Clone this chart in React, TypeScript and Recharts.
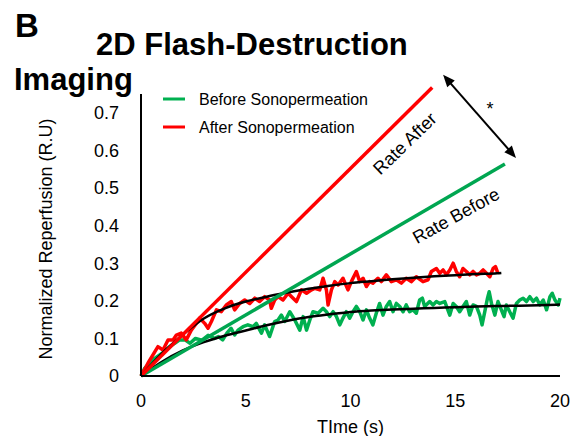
import React from 'react';
import { LineChart, Line, XAxis, YAxis, ReferenceLine, ReferenceDot, Legend } from 'recharts';

const FONT = '"Liberation Sans", Arial, sans-serif';

const xTicks = [0, 5, 10, 15, 20];
const yTicks = [0, 0.1, 0.2, 0.3, 0.4, 0.5, 0.6, 0.7];

const seriesNames = ['Before Sonopermeation', 'After Sonopermeation'];
const seriesColors = ['#00b050', '#ff0000'];

// Raw reperfusion traces [time s, value]
const beforeRaw: [number, number][] = [
  [0, 0], [0.17, 0.02], [0.41, 0.034], [0.65, 0.047], [0.89, 0.056], [1.13, 0.065], [1.37, 0.078],
  [1.61, 0.087], [1.85, 0.096], [2.1, 0.096], [2.34, 0.087], [2.6, 0.1], [2.9, 0.095], [3.2, 0.108],
  [3.5, 0.1], [3.7, 0.105], [3.9, 0.096], [4.1, 0.114], [4.3, 0.127], [4.47, 0.109], [4.63, 0.122],
  [4.87, 0.131], [5.1, 0.136], [5.35, 0.131], [5.5, 0.14], [5.75, 0.114], [5.9, 0.136], [6.14, 0.105],
  [6.38, 0.145], [6.54, 0.149], [6.7, 0.162], [6.86, 0.145], [7.1, 0.171], [7.34, 0.149], [7.58, 0.122],
  [7.74, 0.158], [7.9, 0.122], [8.06, 0.149], [8.21, 0.171], [8.45, 0.167], [8.69, 0.18], [8.85, 0.171],
  [9.01, 0.158], [9.17, 0.171], [9.33, 0.158], [9.49, 0.136], [9.64, 0.154], [9.8, 0.171], [9.96, 0.154],
  [10.12, 0.171], [10.28, 0.185], [10.44, 0.171], [10.6, 0.149], [10.76, 0.176], [10.91, 0.154],
  [11.07, 0.136], [11.23, 0.167], [11.39, 0.193], [11.55, 0.162], [11.71, 0.185], [11.87, 0.198],
  [12.03, 0.171], [12.19, 0.193], [12.35, 0.185], [12.51, 0.171], [12.66, 0.189], [12.82, 0.171],
  [12.98, 0.176], [13.14, 0.167], [13.3, 0.202], [13.43, 0.207], [13.54, 0.185], [13.78, 0.198],
  [13.94, 0.189], [14.1, 0.198], [14.26, 0.193], [14.5, 0.198], [14.74, 0.162], [14.9, 0.193],
  [15.05, 0.185], [15.21, 0.171], [15.37, 0.185], [15.53, 0.198], [15.69, 0.162], [15.85, 0.189],
  [16.01, 0.185], [16.17, 0.162], [16.28, 0.136], [16.41, 0.171], [16.54, 0.207], [16.62, 0.224],
  [16.73, 0.193], [16.89, 0.162], [17.04, 0.198], [17.2, 0.176], [17.33, 0.158], [17.44, 0.189],
  [17.6, 0.171], [17.76, 0.154], [17.92, 0.193], [18.08, 0.202], [18.24, 0.207], [18.4, 0.198],
  [18.56, 0.211], [18.72, 0.198], [18.88, 0.207], [19.04, 0.189], [19.2, 0.202], [19.36, 0.176],
  [19.52, 0.211], [19.63, 0.22], [19.76, 0.202], [19.92, 0.189], [20, 0.207],
];

const afterRaw: [number, number][] = [
  [0, 0], [0.33, 0.034], [0.57, 0.056], [0.81, 0.078], [1.05, 0.069], [1.29, 0.096], [1.53, 0.096],
  [1.69, 0.109], [1.92, 0.114], [2.16, 0.096], [2.4, 0.122], [2.64, 0.14], [2.8, 0.154], [3.04, 0.14],
  [3.2, 0.127], [3.36, 0.145], [3.6, 0.176], [3.83, 0.171], [4.07, 0.189], [4.31, 0.198], [4.47, 0.176],
  [4.71, 0.193], [4.95, 0.202], [5.19, 0.193], [5.43, 0.207], [5.66, 0.198], [5.9, 0.211], [6.14, 0.202],
  [6.22, 0.18], [6.38, 0.202], [6.54, 0.211], [6.78, 0.202], [7.02, 0.22], [7.26, 0.207], [7.42, 0.198],
  [7.66, 0.229], [7.9, 0.22], [8.14, 0.229], [8.29, 0.233], [8.53, 0.229], [8.69, 0.26], [8.85, 0.229],
  [8.93, 0.189], [9.09, 0.229], [9.25, 0.251], [9.41, 0.242], [9.64, 0.26], [9.88, 0.229], [10.04, 0.251],
  [10.28, 0.278], [10.44, 0.251], [10.6, 0.26], [10.76, 0.238], [10.91, 0.251], [11.07, 0.247],
  [11.31, 0.26], [11.47, 0.251], [11.71, 0.269], [11.95, 0.251], [12.19, 0.256], [12.43, 0.247],
  [12.66, 0.26], [12.9, 0.251], [13.14, 0.264], [13.46, 0.251], [13.7, 0.256], [13.86, 0.278],
  [14.1, 0.286], [14.26, 0.273], [14.42, 0.282], [14.58, 0.269], [14.74, 0.282], [14.9, 0.3],
  [15.05, 0.278], [15.21, 0.264], [15.37, 0.286], [15.53, 0.278], [15.69, 0.269], [15.85, 0.278],
  [16.01, 0.269], [16.17, 0.273], [16.33, 0.282], [16.49, 0.273], [16.65, 0.264], [16.81, 0.286],
  [16.92, 0.291], [17.04, 0.273],
];

// Fitted curves
const beforeFit: [number, number][] = [
  [0, 0], [1, 0.038], [2, 0.068], [3, 0.09], [4, 0.107], [5, 0.121], [6, 0.135], [7, 0.147], [8, 0.157],
  [9, 0.164], [10, 0.17], [11, 0.174], [12, 0.177], [13, 0.179], [14, 0.181], [15, 0.183], [16, 0.185],
  [17, 0.186], [18, 0.187], [19, 0.188], [20, 0.19],
];
const afterFit: [number, number][] = [
  [0, 0], [1, 0.06], [2, 0.11], [3, 0.153], [4, 0.18], [5, 0.198], [6, 0.211], [7, 0.222], [8, 0.232],
  [9, 0.24], [10, 0.247], [11, 0.252], [12, 0.257], [13, 0.261], [14, 0.265], [15, 0.268], [16, 0.271],
  [17, 0.273], [17.2, 0.274],
];

// Initial-rate lines and annotation anchors [time, value]
const rateBefore: [number, number][] = [[0, 0], [17.37, 0.564]];
const rateAfter: [number, number][] = [[0, 0], [13.9, 0.767]];
const arrowPts: [number, number][] = [[14.42, 0.801], [17.9, 0.58]];
const rateAfterLabel: [number, number] = [12.6, 0.618];
const rateBeforeLabel: [number, number] = [15.04, 0.426];
const starPos: [number, number] = [16.66, 0.71];

const toObj = (arr: [number, number][]) => arr.map(([x, y]) => ({ x, y }));

const ArrowShape = (p: any) => {
  const { x1, y1, x2, y2 } = p;
  const ang = Math.atan2(y2 - y1, x2 - x1);
  const L = 12, W = 5;
  const head = (x: number, y: number, a: number) => {
    const bx = x - L * Math.cos(a), by = y - L * Math.sin(a);
    const px = -Math.sin(a) * W, py = Math.cos(a) * W;
    return `${x},${y} ${bx + px},${by + py} ${bx - px},${by - py}`;
  };
  return (
    <g>
      <line x1={x1 + 8 * Math.cos(ang)} y1={y1 + 8 * Math.sin(ang)} x2={x2 - 8 * Math.cos(ang)} y2={y2 - 8 * Math.sin(ang)} stroke="#000" strokeWidth={2} />
      <polygon points={head(x2, y2, ang)} fill="#000" />
      <polygon points={head(x1, y1, ang + Math.PI)} fill="#000" />
    </g>
  );
};

const rotatedText = (text: string, angle: number, size: number) => (p: any) => (
  <text
    x={p.cx}
    y={p.cy}
    transform={`rotate(${angle} ${p.cx} ${p.cy})`}
    textAnchor="middle"
    dominantBaseline="central"
    fontFamily={FONT}
    fontSize={size}
    fill="#000"
  >
    {text}
  </text>
);

const LegendContent = () => (
  <svg width={220} height={50} style={{ display: 'block' }}>
    {seriesNames.map((n, i) => (
      <g key={n}>
        <line x1={0} x2={22} y1={10 + i * 28} y2={10 + i * 28} stroke={seriesColors[i]} strokeWidth={3} />
        <text x={36} y={10 + i * 28} dominantBaseline="central" fontFamily={FONT} fontSize={16} fill="#000">{n}</text>
      </g>
    ))}
  </svg>
);

export default function App() {
  return (
    <div style={{ position: 'absolute', left: 0, top: 0, width: 580, height: 436, background: '#fff' }}>
      <LineChart
        width={580}
        height={436}
        margin={{ top: 94, right: 20, bottom: 0, left: 0 }}
        style={{ fontFamily: FONT }}
      >
        <XAxis
          type="number"
          dataKey="x"
          domain={[0, 20]}
          ticks={xTicks}
          tickLine={false}
          tickMargin={12}
          height={60}
          axisLine={{ stroke: '#000', strokeWidth: 2 }}
          tick={{ fill: '#000', fontSize: 18, fontFamily: FONT }}
          label={{ value: 'TIme (s)', position: 'insideBottom', offset: 3, fill: '#000', fontSize: 18, fontFamily: FONT }}
        />
        <YAxis
          type="number"
          dataKey="y"
          domain={[0, 0.75]}
          ticks={yTicks}
          tickLine={false}
          tickMargin={16}
          width={141}
          axisLine={{ stroke: '#000', strokeWidth: 2 }}
          tick={{ fill: '#000', fontSize: 18, fontFamily: FONT }}
          label={(props: any) => {
            const vb = props.viewBox || {};
            const cx = 46;
            const cy = (vb.y ?? 94) + (vb.height ?? 282) / 2 + 4;
            return (
              <text x={cx} y={cy} transform={`rotate(-90 ${cx} ${cy})`} textAnchor="middle" dominantBaseline="central" fontFamily={FONT} fontSize={18} fill="#000">
                Normalized Reperfusion (R.U)
              </text>
            );
          }}
        />
        <Legend
          layout="vertical"
          align="center"
          verticalAlign="middle"
          content={LegendContent}
          wrapperStyle={{ position: 'absolute', left: 163, top: 89, width: 220, height: 50 }}
        />
        <Line data={toObj(beforeRaw)} dataKey="y" name={seriesNames[0]} stroke={seriesColors[0]} strokeWidth={3.5} dot={false} isAnimationActive={false} strokeLinejoin="round" />
        <Line data={toObj(afterRaw)} dataKey="y" name={seriesNames[1]} stroke={seriesColors[1]} strokeWidth={3.5} dot={false} isAnimationActive={false} strokeLinejoin="round" />
        <Line data={toObj(beforeFit)} dataKey="y" type="monotone" stroke="#000" strokeWidth={2.5} dot={false} isAnimationActive={false} legendType="none" />
        <Line data={toObj(afterFit)} dataKey="y" type="monotone" stroke="#000" strokeWidth={2.5} dot={false} isAnimationActive={false} legendType="none" />
        <ReferenceLine segment={toObj(rateBefore)} stroke="#00a651" strokeWidth={3.5} ifOverflow="visible" />
        <ReferenceLine segment={toObj(rateAfter)} stroke="#ff0000" strokeWidth={3.5} ifOverflow="visible" />
        <ReferenceLine segment={toObj(arrowPts)} ifOverflow="visible" shape={ArrowShape} />
        <ReferenceDot x={rateAfterLabel[0]} y={rateAfterLabel[1]} r={1} ifOverflow="visible" shape={rotatedText('Rate After', -44, 18)} />
        <ReferenceDot x={rateBeforeLabel[0]} y={rateBeforeLabel[1]} r={1} ifOverflow="visible" shape={rotatedText('Rate Before', -29, 18)} />
        <ReferenceDot x={starPos[0]} y={starPos[1]} r={1} ifOverflow="visible" shape={rotatedText('*', 0, 18)} />
      </LineChart>
      <svg width={580} height={120} style={{ position: 'absolute', left: 0, top: 0, pointerEvents: 'none' }}>
        <text x={15} y={37} fontFamily={FONT} fontWeight="bold" fontSize={33} fill="#000">B</text>
        <text x={96} y={55} fontFamily={FONT} fontWeight="bold" fontSize={31} fill="#000">2D Flash-Destruction</text>
        <text x={14} y={90} fontFamily={FONT} fontWeight="bold" fontSize={31} fill="#000">Imaging</text>
      </svg>
    </div>
  );
}
